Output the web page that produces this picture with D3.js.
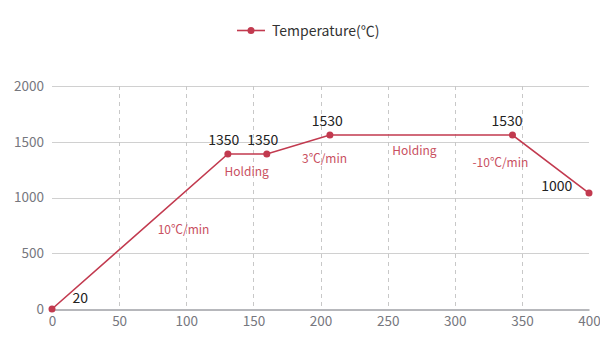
<!DOCTYPE html>
<html><head><meta charset="utf-8">
<script src="https://cdn.jsdelivr.net/npm/d3@7"></script>
<style>body{margin:0;background:#fff}svg{display:block}</style>
</head><body><svg id="c" width="600" height="346"></svg>
<script>
// Data
const seriesName = "Temperature(℃)";
const times = [0, 131, 160, 207, 343, 400];
const temps = [0, 1390, 1390, 1560, 1560, 1040];
const pointLabels = ["20", "1350", "1350", "1530", "1530", "1000"];
const pointLabelX = [21, 128, 157, 205, 339, 376];
const pointLabelY = [54, 1470, 1470, 1640, 1640, 1060];
const noteTexts = ["10℃/min", "Holding", "3℃/min", "Holding", "-10℃/min"];
const noteX = [98, 145, 203, 270, 334];
const noteY = [670, 1195, 1310, 1385, 1275];
const xTicks = [0, 50, 100, 150, 200, 250, 300, 350, 400];
const yTicks = [0, 500, 1000, 1500, 2000];

const svg = d3.select("#c");
const font = "'Noto Sans CJK SC','Noto Sans',sans-serif";
const lineColor = "#c23a4f";
const noteColor = "#c9505f";

const x = d3.scaleLinear().domain([0, 400]).range([52, 589]);
const y = d3.scaleLinear().domain([0, 2000]).range([309, 86]);

// horizontal grid
svg.append("g").selectAll("line").data(yTicks.filter(d => d > 0)).join("line")
  .attr("x1", x(0)).attr("x2", x(400))
  .attr("y1", d => Math.round(y(d)) + 0.5).attr("y2", d => Math.round(y(d)) + 0.5)
  .attr("stroke", "#d0d0d0").attr("stroke-width", 1);

// vertical dashed grid
svg.append("g").selectAll("line").data(xTicks.filter(d => d > 0 && d < 400)).join("line")
  .attr("x1", d => Math.round(x(d)) + 0.5).attr("x2", d => Math.round(x(d)) + 0.5)
  .attr("y1", y(2000)).attr("y2", y(0))
  .attr("stroke", "#c8c8c8").attr("stroke-width", 1).attr("stroke-dasharray", "4,4");

// x axis
const xAxis = d3.axisBottom(x).tickValues(xTicks).tickSize(0).tickPadding(7).tickFormat(d3.format("d"));
const gx = svg.append("g").attr("transform", `translate(0,${Math.round(y(0)) + 0.5})`).call(xAxis);
gx.select(".domain").attr("stroke", "#6e7079").attr("stroke-width", 1);
gx.selectAll("text").attr("fill", "#76777e").style("font-family", font).style("font-size", "13.5px");

// y axis
const yAxis = d3.axisLeft(y).tickValues(yTicks).tickSize(0).tickPadding(8).tickFormat(d3.format("d"));
const gy = svg.append("g").attr("transform", `translate(${x(0)},0)`).call(yAxis);
gy.select(".domain").remove();
gy.selectAll("text").attr("fill", "#76777e").style("font-family", font).style("font-size", "13.5px");

// line
const pts = times.map((t, i) => [t, temps[i]]);
svg.append("path").datum(pts)
  .attr("d", d3.line().x(d => x(d[0])).y(d => y(d[1])))
  .attr("fill", "none").attr("stroke", lineColor).attr("stroke-width", 1.6);
svg.append("g").selectAll("circle").data(pts).join("circle")
  .attr("cx", d => x(d[0])).attr("cy", d => y(d[1])).attr("r", 3.5)
  .attr("fill", lineColor);

// point labels
svg.append("g").selectAll("text").data(pointLabels).join("text")
  .attr("x", (d, i) => x(pointLabelX[i])).attr("y", (d, i) => y(pointLabelY[i]))
  .attr("text-anchor", "middle").attr("fill", "#222")
  .style("font-family", font).style("font-size", "14px").text(d => d);

// notes
svg.append("g").selectAll("text").data(noteTexts).join("text")
  .attr("x", (d, i) => x(noteX[i])).attr("y", (d, i) => y(noteY[i]))
  .attr("text-anchor", "middle").attr("fill", noteColor)
  .style("font-family", font).style("font-size", "12px").text(d => d);

// legend
const lg = svg.append("g");
lg.append("line").attr("x1", 237).attr("x2", 265).attr("y1", 30.5).attr("y2", 30.5)
  .attr("stroke", lineColor).attr("stroke-width", 1.6);
lg.append("circle").attr("cx", 251).attr("cy", 30.5).attr("r", 3.5).attr("fill", lineColor);
lg.append("text").attr("x", 272).attr("y", 35.5).attr("fill", "#333")
  .style("font-family", font).style("font-size", "14px").text(seriesName);
</script></body></html>
